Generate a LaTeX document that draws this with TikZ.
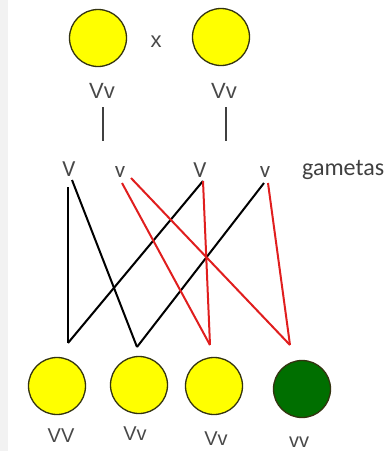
\documentclass[tikz,border=0pt]{standalone}
\usepackage{fontspec}
\setmainfont{Liberation Sans}
\newfontfamily\gamfont{Carlito}
\usetikzlibrary{calc}
\definecolor{peayellow}{HTML}{FFFF00}
\definecolor{peagreen}{HTML}{006F00}
\definecolor{rimdark}{HTML}{333310}
\definecolor{labelgray}{HTML}{484848}
\definecolor{crossred}{HTML}{E01E1E}
\tikzset{
  pea/.style={circle, draw=rimdark, line width=1.3pt, minimum size=57pt, inner sep=0pt},
  geno/.style={text=labelgray, inner sep=0pt, anchor=base, font=\fontsize{22}{24}\selectfont},
  kid/.style={geno, font=\fontsize{20}{22}\selectfont},
  gamete/.style={text=labelgray, inner sep=0pt, anchor=base, font=\gamfont\fontsize{23}{25}\selectfont},
  blackline/.style={line width=2pt, color=black},
  redline/.style={line width=2pt, color=crossred}
}

\begin{document}
\begin{tikzpicture}[x=1pt, y=-1pt]
\useasboundingbox (0,0) rectangle (391,451);
\fill[black!5] (0,0) rectangle (8,451);

% parents
\node[pea, fill=peayellow] (mom) at (98,38) {};
\node[pea, fill=peayellow] (dad) at (221,37) {};
\node[geno] (cross) at (156,47) {x};
\node[geno] (momgeno) at (102,98) {Vv};
\node[geno] (dadgeno) at (224,98) {Vv};
\coordinate (momstem) at (103,141);
\coordinate (dadstem) at (226,141);
\draw[line width=1.6pt, black!75] ($(momgeno.south)+(1,9)$) -- (momstem);
\draw[line width=1.6pt, black!75] ($(dadgeno.south)+(2,9)$) -- (dadstem);

% gametes
\node[gamete] (gV1) at (69,176) {V};
\node[gamete] (gv1) at (120,177) {v};
\node[gamete] (gV2) at (200,177) {V};
\node[gamete] (gv2) at (265,177) {v};
\node[anchor=base west, inner sep=0pt, text=black!75, font=\gamfont\fontsize{24}{26}\selectfont] (gam) at (302,175) {gametas};

\coordinate (sV1a) at (68,187);
\coordinate (sV1b) at (72,180);
\coordinate (sv1a) at (122,183);
\coordinate (sv1b) at (131,178);
\coordinate (sV2) at (203,181);
\coordinate (sv2a) at (264,183);
\coordinate (sv2b) at (268,183);

\coordinate (e1) at (68,343);
\coordinate (e2) at (137,347);
\coordinate (e3) at (210,345);
\coordinate (e4) at (290,345);

\draw[blackline] (sV1a) -- (e1);
\draw[blackline] (sV1b) -- (e2);
\draw[blackline] (sV2) -- (e1);
\draw[blackline] (sv2a) -- (e2);
\draw[redline] (sv1a) -- (e3);
\draw[redline] (sv1b) -- (e4);
\draw[redline] (sV2) -- (e3);
\draw[redline] (sv2b) -- (e4);

% offspring
\node[pea, fill=peayellow] (k1) at (57,386) {};
\node[pea, fill=peayellow] (k2) at (139,385) {};
\node[pea, fill=peayellow] (k3) at (214,386) {};
\node[pea, fill=peagreen] (k4) at (302,389) {};
\node[kid] (k1geno) at (61,442) {VV};
\node[kid] (k2geno) at (135,440) {Vv};
\node[kid] (k3geno) at (216,445) {Vv};
\node[kid] (k4geno) at (299,447) {vv};
\end{tikzpicture}
\end{document}
